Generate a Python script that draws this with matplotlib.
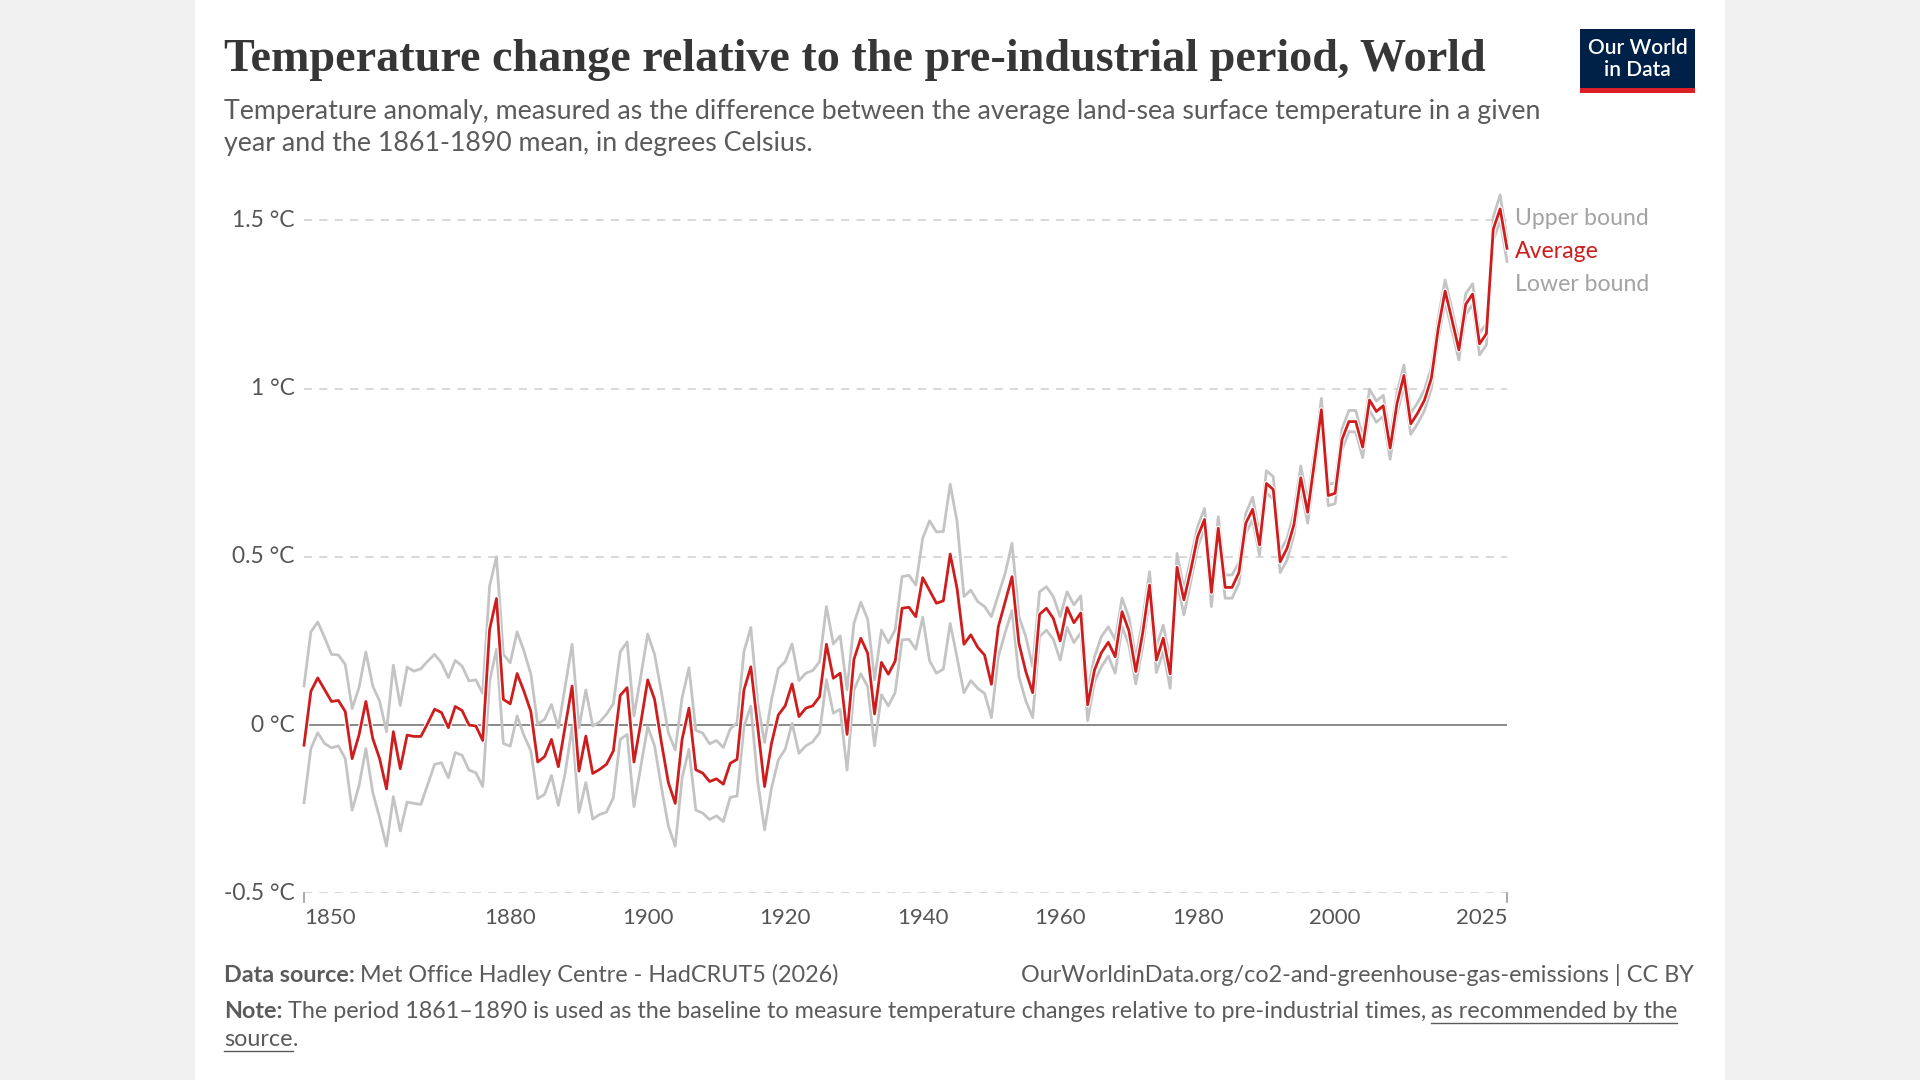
import matplotlib
matplotlib.use("Agg")
import matplotlib.pyplot as plt
import matplotlib.patheffects as pe
from matplotlib.lines import Line2D
from matplotlib.patches import Rectangle

# ---------------------------------------------------------------------------
# DATA (degrees Celsius vs 1861-1890 mean)
# ---------------------------------------------------------------------------
years = list(range(1850, 2026))

average = [
    -0.06, 0.10, 0.14, 0.105, 0.07, 0.073, 0.04, -0.10, -0.03, 0.07,
    -0.04, -0.10, -0.19, -0.02, -0.13, -0.03, -0.034, -0.034, 0.005, 0.047,
    0.037, -0.008, 0.055, 0.043, 0.0, -0.003, -0.046, 0.284, 0.376, 0.076,
    0.063, 0.153, 0.10, 0.04, -0.11, -0.094, -0.043, -0.124, -0.003, 0.116,
    -0.137, -0.033, -0.144, -0.132, -0.117, -0.077, 0.088, 0.111, -0.11, 0.007,
    0.134, 0.076, -0.053, -0.171, -0.233, -0.043, 0.05, -0.133, -0.143, -0.168,
    -0.16, -0.176, -0.114, -0.102, 0.104, 0.173, -0.005, -0.183, -0.055, 0.03,
    0.057, 0.122, 0.025, 0.05, 0.057, 0.084, 0.24, 0.139, 0.154, -0.028,
    0.195, 0.258, 0.213, 0.033, 0.186, 0.151, 0.19, 0.347, 0.35, 0.322,
    0.438, 0.40, 0.362, 0.369, 0.508, 0.406, 0.24, 0.268, 0.231, 0.208,
    0.121, 0.292, 0.367, 0.441, 0.243, 0.159, 0.096, 0.329, 0.347, 0.317,
    0.25, 0.349, 0.304, 0.333, 0.06, 0.164, 0.215, 0.246, 0.203, 0.337,
    0.28, 0.159, 0.273, 0.416, 0.193, 0.258, 0.152, 0.469, 0.372, 0.461,
    0.56, 0.611, 0.394, 0.585, 0.409, 0.409, 0.453, 0.60, 0.641, 0.535,
    0.718, 0.70, 0.485, 0.525, 0.595, 0.735, 0.632, 0.783, 0.937, 0.682,
    0.689, 0.849, 0.902, 0.902, 0.826, 0.966, 0.932, 0.949, 0.823, 0.956,
    1.039, 0.895, 0.927, 0.966, 1.031, 1.179, 1.29, 1.204, 1.115, 1.251,
    1.281, 1.133, 1.163, 1.474, 1.534, 1.417,
]

upper = [
    0.116, 0.277, 0.306, 0.26, 0.21, 0.208, 0.18, 0.049, 0.111, 0.217,
    0.116, 0.071, -0.02, 0.178, 0.058, 0.172, 0.16, 0.167, 0.19, 0.21,
    0.185, 0.141, 0.192, 0.175, 0.131, 0.134, 0.094, 0.413, 0.50, 0.21,
    0.185, 0.277, 0.22, 0.151, 0.002, 0.017, 0.061, -0.008, 0.116, 0.24,
    -0.008, 0.104, -0.003, 0.009, 0.032, 0.063, 0.217, 0.247, 0.027, 0.146,
    0.27, 0.21, 0.096, -0.023, -0.074, 0.081, 0.17, -0.016, -0.024, -0.056,
    -0.046, -0.067, -0.012, 0.007, 0.218, 0.29, 0.064, -0.052, 0.074, 0.168,
    0.188, 0.241, 0.132, 0.154, 0.162, 0.188, 0.352, 0.241, 0.265, 0.104,
    0.302, 0.365, 0.314, 0.134, 0.282, 0.244, 0.283, 0.441, 0.445, 0.416,
    0.555, 0.607, 0.574, 0.575, 0.716, 0.605, 0.382, 0.401, 0.367, 0.352,
    0.322, 0.386, 0.451, 0.54, 0.322, 0.263, 0.173, 0.396, 0.411, 0.382,
    0.322, 0.396, 0.357, 0.384, 0.10, 0.203, 0.263, 0.292, 0.253, 0.377,
    0.32, 0.198, 0.312, 0.456, 0.233, 0.297, 0.191, 0.51, 0.403, 0.495,
    0.59, 0.644, 0.431, 0.619, 0.446, 0.446, 0.483, 0.629, 0.677, 0.565,
    0.756, 0.738, 0.518, 0.553, 0.63, 0.77, 0.665, 0.815, 0.971, 0.715,
    0.72, 0.88, 0.935, 0.935, 0.858, 0.998, 0.963, 0.98, 0.855, 0.988,
    1.07, 0.927, 0.958, 0.997, 1.062, 1.21, 1.323, 1.235, 1.14, 1.282,
    1.312, 1.165, 1.193, 1.51, 1.576, 1.447,
]

lower = [
    -0.231, -0.07, -0.023, -0.055, -0.068, -0.062, -0.10, -0.253, -0.181, -0.07,
    -0.20, -0.276, -0.36, -0.213, -0.315, -0.229, -0.233, -0.236, -0.176, -0.117,
    -0.112, -0.157, -0.082, -0.09, -0.134, -0.142, -0.183, 0.13, 0.225, -0.055,
    -0.063, 0.027, -0.031, -0.077, -0.219, -0.206, -0.15, -0.239, -0.142, -0.005,
    -0.26, -0.171, -0.28, -0.266, -0.259, -0.216, -0.043, -0.028, -0.243, -0.122,
    -0.005, -0.062, -0.186, -0.30, -0.36, -0.157, -0.072, -0.253, -0.262, -0.281,
    -0.27, -0.287, -0.215, -0.211, -0.005, 0.056, -0.168, -0.312, -0.188, -0.104,
    -0.072, 0.005, -0.084, -0.062, -0.05, -0.023, 0.134, 0.035, 0.047, -0.134,
    0.104, 0.152, 0.114, -0.062, 0.09, 0.057, 0.097, 0.253, 0.255, 0.225,
    0.32, 0.191, 0.154, 0.166, 0.302, 0.201, 0.096, 0.132, 0.109, 0.094,
    0.022, 0.203, 0.275, 0.34, 0.144, 0.072, 0.022, 0.263, 0.282, 0.255,
    0.193, 0.29, 0.245, 0.275, 0.013, 0.129, 0.173, 0.205, 0.154, 0.292,
    0.238, 0.122, 0.233, 0.377, 0.156, 0.218, 0.109, 0.431, 0.327, 0.426,
    0.53, 0.585, 0.352, 0.56, 0.377, 0.377, 0.421, 0.57, 0.61, 0.505,
    0.69, 0.671, 0.453, 0.49, 0.565, 0.705, 0.60, 0.752, 0.902, 0.652,
    0.658, 0.818, 0.872, 0.871, 0.795, 0.936, 0.90, 0.918, 0.79, 0.925,
    1.008, 0.864, 0.896, 0.935, 1.0, 1.148, 1.259, 1.172, 1.085, 1.22,
    1.25, 1.10, 1.13, 1.44, 1.50, 1.378,
]

y_ticks = [-0.5, 0, 0.5, 1, 1.5]
y_tick_labels = ["-0.5 °C", "0 °C", "0.5 °C", "1 °C", "1.5 °C"]
x_ticks = [1850, 1880, 1900, 1920, 1940, 1960, 1980, 2000, 2025]

# ---------------------------------------------------------------------------
# STYLE
# ---------------------------------------------------------------------------
W, H = 1920, 1080
RED = "#ce1d1d"
GREY_LINE = "#c4c4c4"
TEXT_GREY = "#5b5b5b"
TICK_GREY = "#555555"
FOOT_FS = 16.8
plt.rcParams["font.family"] = ["Lato", "DejaVu Sans"]


def fx(x):
    return x / W


def fy(y):
    return 1 - y / H


fig = plt.figure(figsize=(19.2, 10.8), dpi=100)
fig.patch.set_facecolor("#f0f0f0")
fig.patches.append(Rectangle((fx(195), 0), fx(1725) - fx(195), 1,
                             transform=fig.transFigure, facecolor="white",
                             edgecolor="none", zorder=-10))

# ---------------------------------------------------------------------------
# AXES: 1850 at x=304, 2025 at x=1507; 0 C at y=725, 336.4 px per degree
# ---------------------------------------------------------------------------
y_min, y_max = -0.5, 1.6
top_px = 725 - 336.4 * y_max
bot_px = 725 - 336.4 * y_min
ax = fig.add_axes([fx(304), fy(bot_px), fx(1507) - fx(304), (bot_px - top_px) / H])
ax.set_zorder(5)
ax.set_facecolor("none")
ax.set_xlim(1850, 2025)
ax.set_ylim(y_min, y_max)
for s in ax.spines.values():
    s.set_visible(False)
ax.set_xticks([])
ax.set_yticks([])

for v, lab in zip(y_ticks, y_tick_labels):
    if v == 0:
        ax.axhline(v, color="#8a8a8a", lw=1.4, zorder=1)
    else:
        ax.axhline(v, color="#d6d6d6", lw=1.3, ls=(0, (4.5, 4)), zorder=1)
    ax.text(-0.008, v, lab, transform=ax.get_yaxis_transform(), ha="right",
            va="center", fontsize=16.4, color=TICK_GREY)

# small end ticks at the bottom corners
for xt in (1850, 2025):
    ax.plot([xt, xt], [-0.5, -0.525], color="#999999", lw=1.2, clip_on=False)

for xt in x_ticks:
    ha = "center"
    if xt == 1850:
        ha = "left"
    elif xt == 2025:
        ha = "right"
    ax.text(xt, -0.575, str(xt), ha=ha, va="center", fontsize=16, color=TICK_GREY,
            clip_on=False)

ax.plot(years, upper, color=GREY_LINE, lw=2.0, zorder=2, clip_on=False)
ax.plot(years, lower, color=GREY_LINE, lw=2.0, zorder=2, clip_on=False)
ax.plot(years, average, color=RED, lw=2.0, zorder=3, clip_on=False,
        path_effects=[pe.Stroke(linewidth=3.6, foreground="white"), pe.Normal()])

# line labels on the right
fig.text(fx(1515), fy(218.5), "Upper bound", fontsize=16.6, color="#a3a3a3", va="center")
fig.text(fx(1515), fy(251.5), "Average", fontsize=16.6, color=RED, va="center")
fig.text(fx(1515), fy(284.5), "Lower bound", fontsize=16.6, color="#a3a3a3", va="center")

# ---------------------------------------------------------------------------
# HEADER
# ---------------------------------------------------------------------------
fig.text(fx(224), fy(60), "Temperature change relative to the pre-industrial period, World",
         fontsize=33.2, fontweight="bold", family=["Liberation Serif", "DejaVu Serif"],
         color="#363636", va="center")
fig.text(fx(224), fy(111.5),
         "Temperature anomaly, measured as the difference between the average land-sea "
         "surface temperature in a given",
         fontsize=19.3, color=TEXT_GREY, va="center")
fig.text(fx(224), fy(143.5), "year and the 1861-1890 mean, in degrees Celsius.",
         fontsize=19.3, color=TEXT_GREY, va="center")

# logo
fig.patches.append(Rectangle((fx(1580), fy(93)), fx(1695) - fx(1580), (93 - 29) / H,
                             transform=fig.transFigure, facecolor="#002147",
                             edgecolor="none", zorder=1))
fig.patches.append(Rectangle((fx(1580), fy(93)), fx(1695) - fx(1580), 5 / H,
                             transform=fig.transFigure, facecolor="#dc1f26",
                             edgecolor="none", zorder=2))
fig.text(fx(1637.5), fy(48), "Our World", fontsize=15, fontweight="semibold",
         color="white", ha="center", va="center", zorder=3)
fig.text(fx(1637.5), fy(70), "in Data", fontsize=15, fontweight="semibold",
         color="white", ha="center", va="center", zorder=3)

# ---------------------------------------------------------------------------
# FOOTER (mixed bold / regular / underlined runs)
# ---------------------------------------------------------------------------
fig.canvas.draw()
renderer = fig.canvas.get_renderer()


def run(x_px, y_px, s, bold=False, underline=False):
    t = fig.text(fx(x_px), fy(y_px), s, fontsize=FOOT_FS, color=TEXT_GREY, va="baseline",
                 fontweight="bold" if bold else "normal")
    bb = t.get_window_extent(renderer)
    if underline:
        uy = fy(y_px + 4)
        fig.lines.append(Line2D([fx(bb.x0), fx(bb.x1)], [uy, uy], transform=fig.transFigure,
                                color=TEXT_GREY, lw=1.0))
    return bb.x1


x = run(224, 982.5, "Data source:", bold=True)
run(x + 5, 982.5, "Met Office Hadley Centre - HadCRUT5 (2026)")
fig.text(fx(1694), fy(982.5), "OurWorldinData.org/co2-and-greenhouse-gas-emissions | CC BY",
         fontsize=FOOT_FS, color=TEXT_GREY, ha="right", va="baseline")

x = run(224, 1018.5, "Note:", bold=True)
x = run(x + 5, 1018.5, "The period 1861–1890 is used as the baseline to measure temperature "
                       "changes relative to pre-industrial times,")
run(x + 5, 1018.5, "as recommended by the", underline=True)
x = run(224, 1046.5, "source", underline=True)
run(x, 1046.5, ".")

fig.savefig("out.png", dpi=100, facecolor=fig.get_facecolor())
